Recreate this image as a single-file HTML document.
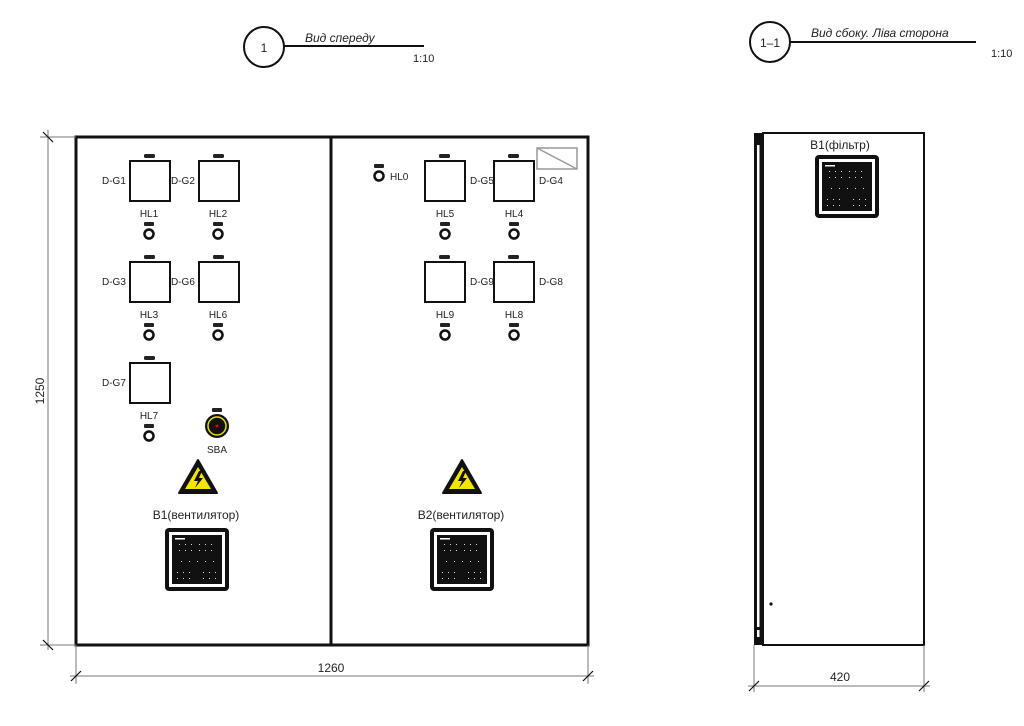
<!DOCTYPE html>
<html><head><meta charset="utf-8"><style>
html,body{margin:0;padding:0;background:#fff;}
svg{display:block;}
text{font-family:"Liberation Sans",sans-serif;fill:#222;}
</style></head><body>
<svg width="1024" height="726" viewBox="0 0 1024 726" xmlns="http://www.w3.org/2000/svg">
<defs>
  <g id="box">
    <rect x="0" y="0" width="40" height="40" fill="#fff" stroke="#111" stroke-width="2"/>
    <rect x="14" y="-7" width="11" height="4" rx="1.5" fill="#222"/>
  </g>
  <g id="lamp">
    <rect x="-5" y="-12" width="10" height="4" rx="1" fill="#222"/>
    <circle cx="0" cy="0" r="4.5" fill="#fff" stroke="#111" stroke-width="2.5"/>
  </g>
  <g id="vent">
    <rect x="0" y="0" width="64" height="63" rx="4" fill="#111"/>
    <rect x="4" y="4" width="56" height="55" fill="#fff"/>
    <rect x="7" y="7" width="50" height="49" fill="#111"/>
    <rect x="10" y="10" width="10" height="1.5" fill="#fff"/>
    <g fill="#ddd">
      <rect x="14" y="16" width="1" height="1"/><rect x="20" y="16" width="1" height="1"/><rect x="26" y="16" width="1" height="1"/><rect x="34" y="16" width="1" height="1"/><rect x="40" y="16" width="1" height="1"/><rect x="46" y="16" width="1" height="1"/>
      <rect x="14" y="22" width="1" height="1"/><rect x="20" y="22" width="1" height="1"/><rect x="26" y="22" width="1" height="1"/><rect x="34" y="22" width="1" height="1"/><rect x="40" y="22" width="1" height="1"/><rect x="46" y="22" width="1" height="1"/>
      <rect x="16" y="33" width="1" height="1"/><rect x="24" y="33" width="1" height="1"/><rect x="32" y="33" width="1" height="1"/><rect x="40" y="33" width="1" height="1"/><rect x="48" y="33" width="1" height="1"/>
      <rect x="12" y="44" width="1" height="1"/><rect x="18" y="44" width="1" height="1"/><rect x="24" y="44" width="1" height="1"/><rect x="38" y="44" width="1" height="1"/><rect x="44" y="44" width="1" height="1"/><rect x="50" y="44" width="1" height="1"/>
      <rect x="12" y="50" width="1" height="1"/><rect x="18" y="50" width="1" height="1"/><rect x="24" y="50" width="1" height="1"/><rect x="38" y="50" width="1" height="1"/><rect x="44" y="50" width="1" height="1"/><rect x="50" y="50" width="1" height="1"/>
    </g>
  </g>
  <g id="warn">
    <polygon points="0,-19 19,14 -19,14" fill="#111" stroke="#111" stroke-width="2" stroke-linejoin="round"/>
    <polygon points="0,-12 13,10 -13,10" fill="#f2e600"/>
    <polygon points="1,-8 -4,2 0,2 -3,9 5,-1 1,-1 4,-8" fill="#111"/>
  </g>
</defs>

<!-- headers -->
<circle cx="264" cy="47" r="20" fill="none" stroke="#111" stroke-width="2"/>
<text x="264" y="52" font-size="12" text-anchor="middle">1</text>
<line x1="284" y1="46" x2="424" y2="46" stroke="#111" stroke-width="2"/>
<text x="305" y="42" font-size="12" font-style="italic">Вид спереду</text>
<text x="413" y="62" font-size="11">1:10</text>

<circle cx="770" cy="42" r="20" fill="none" stroke="#111" stroke-width="2"/>
<text x="770" y="47" font-size="12" text-anchor="middle">1–1</text>
<line x1="790" y1="42" x2="976" y2="42" stroke="#111" stroke-width="2"/>
<text x="811" y="37" font-size="12" font-style="italic">Вид сбоку. Ліва сторона</text>
<text x="991" y="57" font-size="11">1:10</text>

<!-- front panel -->
<rect x="76" y="137" width="512" height="508" fill="#fff" stroke="#111" stroke-width="3"/>
<line x1="331" y1="137" x2="331" y2="645" stroke="#111" stroke-width="3"/>

<!-- dimensions front -->
<g stroke="#777" stroke-width="1">
  <line x1="40" y1="137" x2="76" y2="137"/>
  <line x1="40" y1="645" x2="76" y2="645"/>
  <line x1="48" y1="130" x2="48" y2="650"/>
  <line x1="76" y1="645" x2="76" y2="684"/>
  <line x1="588" y1="645" x2="588" y2="684"/>
  <line x1="70" y1="676" x2="594" y2="676"/>
</g>
<g stroke="#111" stroke-width="1.2">
  <line x1="43" y1="132" x2="53" y2="142"/>
  <line x1="43" y1="640" x2="53" y2="650"/>
  <line x1="71" y1="681" x2="81" y2="671"/>
  <line x1="583" y1="681" x2="593" y2="671"/>
</g>
<text x="44" y="391" font-size="12" text-anchor="middle" transform="rotate(-90 44 391)">1250</text>
<text x="331" y="672" font-size="12" text-anchor="middle">1260</text>

<!-- left section -->
<use href="#box" x="130" y="161"/><use href="#box" x="199" y="161"/>
<use href="#box" x="130" y="262"/><use href="#box" x="199" y="262"/>
<use href="#box" x="130" y="363"/>
<g font-size="10">
<text x="102" y="184">D-G1</text><text x="171" y="184">D-G2</text>
<text x="102" y="285">D-G3</text><text x="171" y="285">D-G6</text>
<text x="102" y="386">D-G7</text>
<text x="149" y="217" text-anchor="middle">HL1</text><text x="218" y="217" text-anchor="middle">HL2</text>
<text x="149" y="318" text-anchor="middle">HL3</text><text x="218" y="318" text-anchor="middle">HL6</text>
<text x="149" y="419" text-anchor="middle">HL7</text>
<text x="217" y="453" text-anchor="middle">SBA</text>
</g>
<use href="#lamp" x="149" y="234"/><use href="#lamp" x="218" y="234"/>
<use href="#lamp" x="149" y="335"/><use href="#lamp" x="218" y="335"/>
<use href="#lamp" x="149" y="436"/>
<rect x="212" y="408" width="10" height="4" rx="1" fill="#222"/>
<circle cx="217" cy="426" r="12" fill="#111"/>
<circle cx="217" cy="426" r="9" fill="none" stroke="#e6e000" stroke-width="1.5"/>
<circle cx="217" cy="426" r="1.5" fill="#e00"/>
<use href="#warn" x="198" y="479"/>
<text x="196" y="519" font-size="12" text-anchor="middle">B1(вентилятор)</text>
<use href="#vent" x="165" y="528"/>

<!-- right section -->
<use href="#lamp" x="379" y="176"/>
<text x="390" y="180" font-size="10">HL0</text>
<use href="#box" x="425" y="161"/><use href="#box" x="494" y="161"/>
<use href="#box" x="425" y="262"/><use href="#box" x="494" y="262"/>
<rect x="537" y="148" width="40" height="21" fill="none" stroke="#999" stroke-width="1.5"/>
<line x1="537" y1="148" x2="577" y2="169" stroke="#999" stroke-width="1.5"/>
<g font-size="10">
<text x="470" y="184">D-G5</text><text x="539" y="184">D-G4</text>
<text x="470" y="285">D-G9</text><text x="539" y="285">D-G8</text>
<text x="445" y="217" text-anchor="middle">HL5</text><text x="514" y="217" text-anchor="middle">HL4</text>
<text x="445" y="318" text-anchor="middle">HL9</text><text x="514" y="318" text-anchor="middle">HL8</text>
</g>
<use href="#lamp" x="445" y="234"/><use href="#lamp" x="514" y="234"/>
<use href="#lamp" x="445" y="335"/><use href="#lamp" x="514" y="335"/>
<use href="#warn" x="462" y="479"/>
<text x="461" y="519" font-size="12" text-anchor="middle">B2(вентилятор)</text>
<use href="#vent" x="430" y="528"/>

<!-- side view -->
<rect x="763" y="133" width="161" height="512" fill="#fff" stroke="#111" stroke-width="2"/>
<rect x="754" y="133" width="10" height="512" fill="#111"/>
<rect x="757" y="145" width="2.5" height="492" fill="#fff"/>
<rect x="757" y="627" width="2.5" height="3" fill="#111"/>
<circle cx="771" cy="604" r="1.6" fill="#111"/>
<text x="840" y="149" font-size="12" text-anchor="middle">B1(фільтр)</text>
<use href="#vent" x="815" y="155"/>
<g stroke="#777" stroke-width="1">
  <line x1="754" y1="645" x2="754" y2="692"/>
  <line x1="924" y1="645" x2="924" y2="692"/>
  <line x1="748" y1="686" x2="930" y2="686"/>
</g>
<g stroke="#111" stroke-width="1.2">
  <line x1="749" y1="691" x2="759" y2="681"/>
  <line x1="919" y1="691" x2="929" y2="681"/>
</g>
<text x="840" y="681" font-size="12" text-anchor="middle">420</text>
</svg>
</body></html>
